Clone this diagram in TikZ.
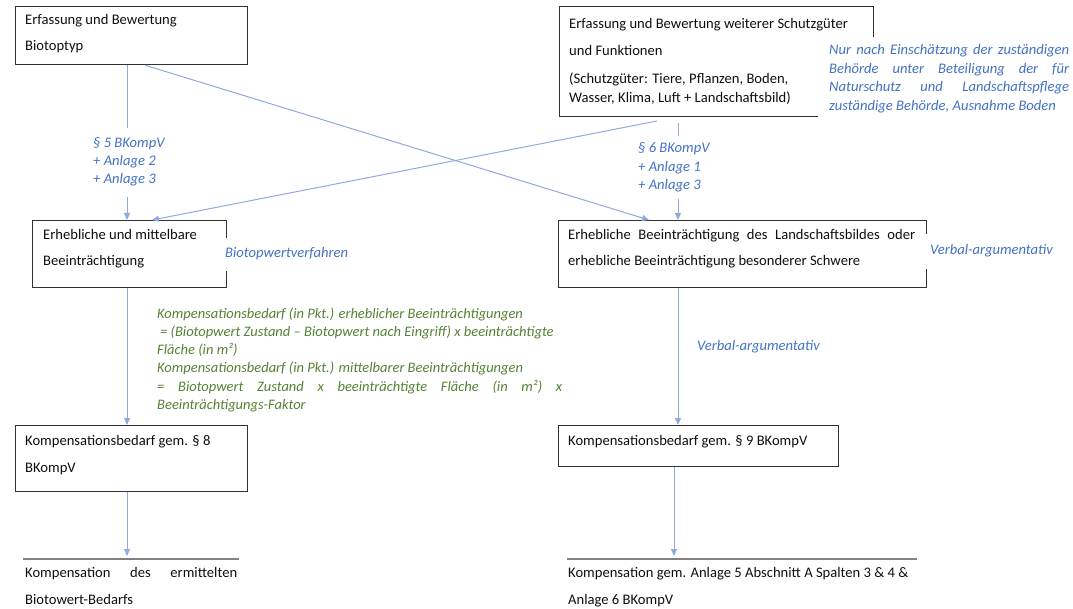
\documentclass[tikz,border=0pt]{standalone}
\usepackage{fontspec}
\setmainfont{Carlito}
\usetikzlibrary{arrows.meta}
\definecolor{boxc}{RGB}{50,50,50}
\definecolor{linec}{RGB}{130,130,130}
\definecolor{arrc}{RGB}{143,170,220}
\definecolor{bluec}{RGB}{68,114,196}
\definecolor{grnc}{RGB}{84,130,53}
\definecolor{txtc}{RGB}{15,15,15}
\begin{document}
\begin{tikzpicture}[x=1pt,y=-1pt,
  box/.style={draw=boxc,line width=1.2pt,inner sep=0pt,anchor=north west},
  txt/.style={anchor=base west,inner sep=0pt,text=txtc,font=\fontsize{14.6}{18}\selectfont},
  blu/.style={anchor=base west,inner sep=0pt,text=bluec,font=\fontsize{14.6}{18}\selectfont\itshape},
  grn/.style={anchor=base west,inner sep=0pt,text=grnc,font=\fontsize{14.5}{18}\selectfont\itshape},
  conn/.style={draw=arrc,line width=1pt,-{Triangle[width=6pt,length=7pt]}},
  mask/.style={fill=white,draw=none,inner sep=0pt,anchor=north west},
  rulebox/.style={inner sep=0pt,anchor=north west},
  rule/.style={draw=linec,line width=1.5pt}]
\useasboundingbox (0,0) rectangle (1073,609);

% boxes
\node[box,minimum width=232pt,minimum height=58pt] (b1) at (15,6) {};
\node[box,minimum width=314pt,minimum height=110pt] (b2) at (559,6) {};
\node[box,minimum width=194pt,minimum height=67pt] (b3) at (32,220) {};
\node[box,minimum width=368pt,minimum height=67pt] (b4) at (558,220) {};
\node[box,minimum width=232pt,minimum height=66pt] (b5) at (15,425) {};
\node[box,minimum width=280pt,minimum height=41pt] (b6) at (558,425) {};
\node[rulebox,minimum width=216pt,minimum height=50pt] (b7) at (23,559) {};
\node[rulebox,minimum width=350pt,minimum height=50pt] (b8) at (567,559) {};
\draw[rule] (b7.north west) -- (b7.north east);
\draw[rule] (b8.north west) -- (b8.north east);

% helper coordinates
\coordinate (xL) at (127,0);
\coordinate (xR) at (678,0);
\coordinate (xR2) at (674,0);
\coordinate (d1) at (145,0);
\coordinate (d2) at (649,0);
\coordinate (d3) at (152,0);
\coordinate (s2v) at (678,123);
\coordinate (s2d) at (657,121);

% connectors
\draw[conn] (b1.south -| xL) -- (b3.north -| xL);
\draw[conn] (b3.south -| xL) -- (b5.north -| xL);
\draw[conn,shorten >=3pt] (b5.south -| xL) -- (b7.north -| xL);
\draw[conn] (s2v) -- (b4.north -| xR);
\draw[conn] (b4.south -| xR) -- (b6.north -| xR);
\draw[conn,shorten >=3pt] (b6.south -| xR2) -- (b8.north -| xR2);
\draw[conn] (b1.south -| d1) -- (b4.north -| d2);
\draw[conn] (s2d) -- (b3.north -| d3);

% masks
\node[mask,minimum width=70pt,minimum height=69pt] (m1) at (90,128) {};
\node[mask,minimum width=80pt,minimum height=63pt] (m2) at (634,136) {};
\node[mask,minimum width=255pt,minimum height=90pt] (m3) at (818,37) {};
\node[mask,minimum width=128pt,minimum height=33pt] (m4) at (222,238) {};
\node[mask,minimum width=140pt,minimum height=35pt] (m5) at (921,234) {};

% box texts
\node[txt] (t1a) at (25,25) {Erfassung und Bewertung};
\node[txt] (t1b) at (25,51) {Biotoptyp};
\node[txt] (t2a) at (569,29) {Erfassung und Bewertung weiterer Schutzgüter};
\node[txt] (t2b) at (569,56) {und Funktionen};
\node[txt] (t2c) at (569,84) {(Schutzgüter: Tiere, Pflanzen, Boden,};
\node[txt] (t2d) at (569,103) {Wasser, Klima, Luft + Landschaftsbild)};
\node[txt] (t3a) at (43,240) {Erhebliche und mittelbare};
\node[txt] (t3b) at (43,266) {Beeinträchtigung};
\node[txt] (t4a) at (568,240) {\makebox[347pt][s]{Erhebliche Beeinträchtigung des Landschaftsbildes oder}};
\node[txt] (t4b) at (568,266) {erhebliche Beeinträchtigung besonderer Schwere};
\node[txt] (t5a) at (25,445) {Kompensationsbedarf gem. § 8};
\node[txt] (t5b) at (25,472) {BKompV};
\node[txt] (t6a) at (568,445) {Kompensationsbedarf gem. § 9 BKompV};
\node[txt] (t7a) at (25,577) {\makebox[212pt][s]{Kompensation des ermittelten}};
\node[txt] (t7b) at (25,604) {Biotowert-Bedarfs};
\node[txt] (t8a) at (568,577) {Kompensation gem. Anlage 5 Abschnitt A Spalten 3 \& 4 \&};
\node[txt] (t8b) at (568,604) {Anlage 6 BKompV};

% blue labels
\node[blu] (l1a) at (93,148) {§ 5 BKompV};
\node[blu] (l1b) at (93,166) {+ Anlage 2};
\node[blu] (l1c) at (93,184) {+ Anlage 3};
\node[blu] (l2a) at (638,153) {§ 6 BKompV};
\node[blu] (l2b) at (638,172) {+ Anlage 1};
\node[blu] (l2c) at (638,190) {+ Anlage 3};
\node[blu] (a1a) at (829,55) {\makebox[240pt][s]{Nur nach Einschätzung der zuständigen}};
\node[blu] (a1b) at (829,74) {\makebox[240pt][s]{Behörde unter Beteiligung der für}};
\node[blu] (a1c) at (829,92) {\makebox[240pt][s]{Naturschutz und Landschaftspflege}};
\node[blu] (a1d) at (829,111) {zuständige Behörde, Ausnahme Boden};
\node[blu] (a2) at (225,258) {Biotopwertverfahren};
\node[blu] (a3) at (930,255) {Verbal-argumentativ};
\node[blu] (a4) at (697,350) {Verbal-argumentativ};

% green formula text
\node[grn] (g1) at (157,319) {Kompensationsbedarf (in Pkt.) erheblicher Beeinträchtigungen};
\node[grn] (g2) at (160,337) {= (Biotopwert Zustand – Biotopwert nach Eingriff) x beeinträchtigte};
\node[grn] (g3) at (157,355) {Fläche (in m²)};
\node[grn] (g4) at (157,373) {Kompensationsbedarf (in Pkt.) mittelbarer Beeinträchtigungen};
\node[grn] (g5) at (157,391) {\makebox[405pt][s]{= Biotopwert Zustand x beeinträchtigte Fläche (in m²) x}};
\node[grn] (g6) at (157,409) {Beeinträchtigungs-Faktor};
\end{tikzpicture}
\end{document}
